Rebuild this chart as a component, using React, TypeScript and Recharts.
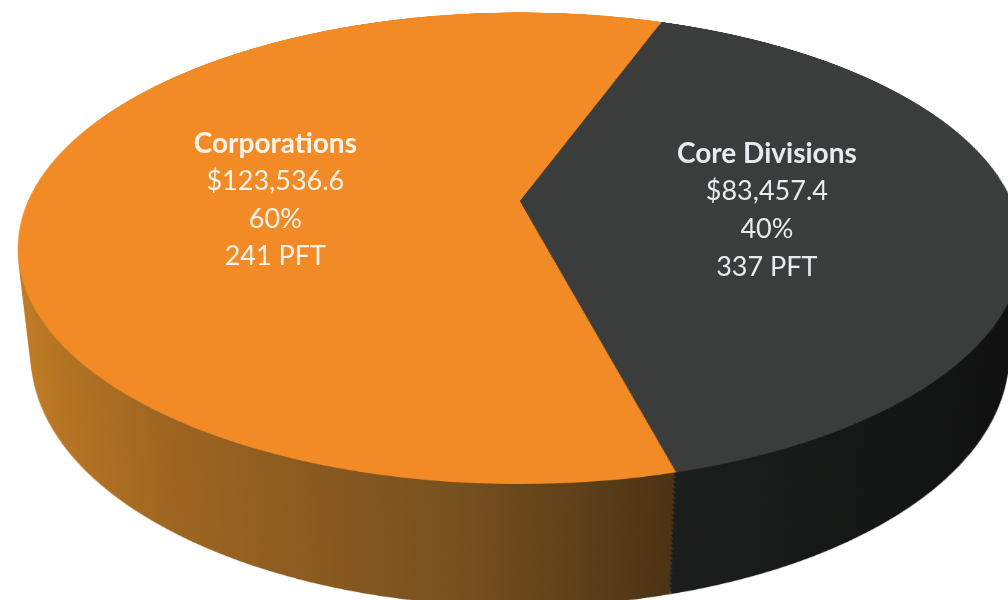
import { PieChart, Pie, Cell } from "recharts";

const CATEGORIES = ["Corporations", "Core Divisions"];
const AMOUNTS = [123536.6, 83457.4];
const PFT = [241, 337];

const TOP_COLORS = ["#F28B26", "#3B3C3C"];
const TEXT_COLORS = ["#FBF3EA", "#E9EBEF"];

const data = CATEGORIES.map((name, i) => ({ name, value: AMOUNTS[i], pft: PFT[i] }));

// 3D disc geometry (css perspective + tilt)
const R = 492;
const S = 992;
const CX = 520;
const CY = 201;
const TILT = 62.6;
const PERSP = 2184;
const DEPTH = 122;
const LAYERS = 24;
const START = 70;
const END = 430;

const sinT = Math.sin((TILT * Math.PI) / 180);
const cosT = Math.cos((TILT * Math.PI) / 180);

// project a point of the top face (element coords, y down) to the page
function project(ex: number, ey: number) {
  const k = PERSP / (PERSP - ey * sinT);
  return [CX + ex * k, CY + ey * cosT * k];
}

const fmt = (v: number) =>
  "$" + v.toLocaleString("en-US", { minimumFractionDigits: 1, maximumFractionDigits: 1 });

const LINE_OFFSETS = [-43, -6, 32, 69.5];

const renderLabel = (props: any) => {
  const { midAngle, index, percent } = props;
  const rad = (midAngle * Math.PI) / 180;
  const r = R * 0.5;
  const [x, y] = project(r * Math.cos(rad), -r * Math.sin(rad));
  const d = data[index];
  const lines = [d.name, fmt(d.value), `${Math.round(percent * 100)}%`, `${d.pft} PFT`];
  return (
    <text x={x} y={y} textAnchor="middle" fill={TEXT_COLORS[index]} fontFamily="Lato, 'Open Sans', sans-serif">
      {lines.map((t, i) => (
        <tspan key={i} x={x} y={y + LINE_OFFSETS[i]} fontSize={i === 0 ? 28 : 27} fontWeight={i === 0 ? 700 : 400}>
          {t}
        </tspan>
      ))}
    </text>
  );
};

function PieLayer({ z, top, id }: { z: number; top: boolean; id: string }) {
  return (
    <div
      style={{
        position: "absolute",
        left: CX - S / 2,
        top: CY - S / 2,
        width: S,
        height: S,
        transform: `perspective(${PERSP}px) rotateX(${TILT}deg) translateZ(${z}px)`,
      }}
    >
      <PieChart width={S} height={S} margin={{ top: 0, right: 0, bottom: 0, left: 0 }}>
        <defs>
          <linearGradient id={`${id}-0`} gradientUnits="userSpaceOnUse" x1={S / 2 - R} x2={S / 2 + R} y1={0} y2={0}>
            <stop offset="0" stopColor="#C47E24" />
            <stop offset="0.2" stopColor="#9E6521" />
            <stop offset="0.45" stopColor="#76501F" />
            <stop offset="0.63" stopColor="#4A3214" />
          </linearGradient>
          <linearGradient id={`${id}-1`} gradientUnits="userSpaceOnUse" x1={S / 2 - R} x2={S / 2 + R} y1={0} y2={0}>
            <stop offset="0.6" stopColor="#1C1F1D" />
            <stop offset="1" stopColor="#0E0F0E" />
          </linearGradient>
        </defs>
        <Pie
          data={data}
          dataKey="value"
          cx={S / 2}
          cy={S / 2}
          outerRadius={R}
          startAngle={START}
          endAngle={END}
          stroke="none"
          isAnimationActive={false}
        >
          {data.map((d, i) => (
            <Cell key={d.name} fill={top ? TOP_COLORS[i] : `url(#${id}-${i})`} />
          ))}
        </Pie>
      </PieChart>
    </div>
  );
}

export default function App() {
  const layers = [];
  for (let i = 0; i < LAYERS; i++) {
    const z = -DEPTH + (i * DEPTH) / LAYERS;
    layers.push(<PieLayer key={i} z={z} top={false} id={`side${i}`} />);
  }
  return (
    <div
      style={{
        position: "absolute",
        left: 0,
        top: 0,
        width: 1008,
        height: 600,
        overflow: "hidden",
        background: "#ffffff",
      }}
    >
      {layers}
      <PieLayer z={0} top={true} id="topface" />
      <div style={{ position: "absolute", left: 0, top: 0 }}>
        <PieChart width={1008} height={600} margin={{ top: 0, right: 0, bottom: 0, left: 0 }}>
          <Pie
            data={data}
            dataKey="value"
            cx={CX}
            cy={CY}
            outerRadius={R}
            startAngle={START}
            endAngle={END}
            fill="transparent"
            stroke="none"
            label={renderLabel}
            labelLine={false}
            isAnimationActive={false}
          />
        </PieChart>
      </div>
    </div>
  );
}
